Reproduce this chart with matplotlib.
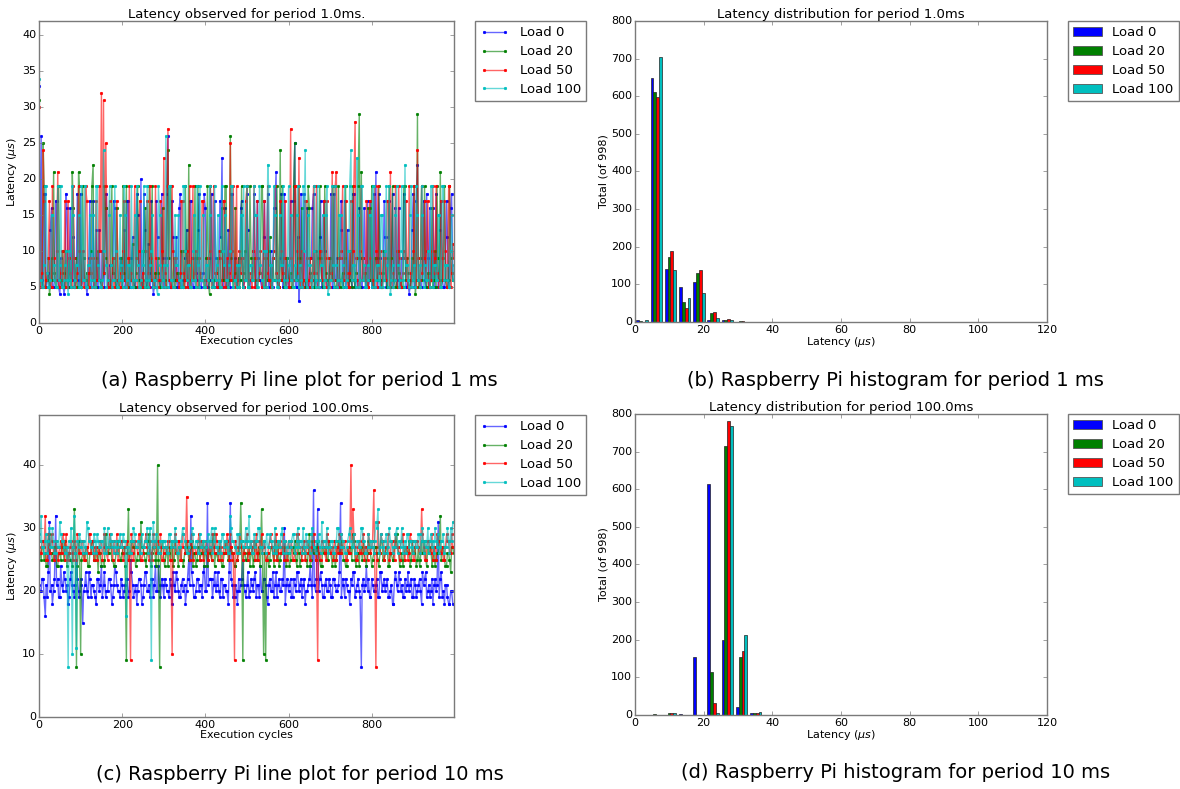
import numpy as np
import matplotlib
matplotlib.use("Agg")
import matplotlib.pyplot as plt
from matplotlib.patches import Patch

plt.style.use("classic")
plt.rcParams["font.family"] = ["DejaVu Sans"]
plt.rcParams["mathtext.fontset"] = "dejavusans"

# ---------------- data ----------------
loads = ["Load 0", "Load 20", "Load 50", "Load 100"]
colors = ["#0000ff", "#008000", "#ff0000", "#00bfbf"]

# sampled execution cycles: set A (0,5,10,...) and set B (2,7,12,...)
cycles_a = list(range(0, 1000, 5))
cycles_b = list(range(2, 1000, 5))

# Period 1.0 ms latency (us), set A
p1_load0 = [33,26,5,18,6,5,16,5,17,6,4,5,4,18,5,16,6,5,9,5,
            18,6,5,4,9,5,17,6,5,13,5,7,16,5,8,5,17,5,6,9,
            5,13,6,17,5,12,5,18,6,20,5,13,5,7,17,4,5,12,6,18,
            5,9,26,5,17,6,12,5,18,5,6,13,5,17,5,9,6,18,5,7,
            16,5,6,18,5,9,5,17,23,6,5,13,5,18,6,5,9,16,5,6,
            18,5,6,10,5,17,6,5,12,5,18,6,5,16,21,5,9,6,18,5,
            5,17,6,25,5,3,18,6,5,16,5,9,18,6,5,12,5,17,6,5,
            9,5,18,6,5,13,5,17,6,5,10,18,5,6,16,5,9,5,17,6,
            5,18,21,5,9,6,17,5,12,5,18,6,5,16,5,9,17,5,4,6,
            18,5,22,6,5,17,5,9,16,6,5,18,5,13,6,5,17,5,16,6]
p1_load20 = [31,6,25,5,6,4,9,21,5,19,6,5,7,10,5,6,21,5,9,21,
             5,19,6,7,5,10,22,5,9,6,5,7,16,6,5,19,9,5,6,6,
             5,7,19,5,6,11,5,9,6,6,5,16,5,19,6,5,7,9,5,6,
             6,5,24,19,5,9,6,7,5,10,5,6,22,5,6,19,9,5,6,6,
             5,19,4,6,5,7,9,5,16,6,19,5,26,6,7,5,9,6,5,10,
             19,5,9,6,6,5,7,19,5,9,6,12,5,6,6,5,24,19,5,9,
             6,7,5,25,6,19,9,5,6,6,16,5,10,5,9,19,6,5,7,5,
             9,6,6,5,19,5,7,9,6,5,6,19,5,9,29,21,6,7,5,16,
             19,5,9,6,6,5,10,6,9,5,19,6,5,7,6,5,19,9,5,6,
             6,4,29,5,19,9,6,7,5,16,6,5,9,21,6,19,5,6,9,6]
p1_load50 = [30,6,24,5,7,17,5,9,6,21,5,10,6,5,17,7,5,9,6,19,
             5,10,6,17,5,7,9,5,6,19,32,31,25,5,17,6,5,10,6,5,
             7,17,5,9,6,5,19,6,10,5,7,6,17,5,9,6,19,5,6,10,
             23,5,27,6,19,5,9,6,7,17,5,10,6,5,19,7,5,9,6,17,
             5,6,10,5,19,7,6,9,5,17,6,5,25,10,6,19,5,7,9,6,
             19,5,6,10,5,17,7,6,9,5,19,6,5,10,7,5,17,6,9,5,
             6,27,5,19,10,23,6,5,17,9,6,5,19,7,5,10,6,17,5,9,
             5,21,6,21,5,9,19,6,7,5,17,10,28,6,5,19,9,6,5,17,
             6,5,10,19,7,5,9,6,17,21,5,6,10,19,5,7,9,6,19,5,
             10,6,24,5,19,9,6,17,5,10,7,19,6,5,9,17,6,19,5,11]
p1_load100 = [34,6,5,19,7,5,15,6,5,19,8,5,6,10,4,6,19,5,8,15,
              5,6,19,5,8,6,15,5,19,6,5,24,8,6,19,5,6,10,5,15,
              6,19,5,8,5,6,15,19,5,6,8,5,19,6,10,5,6,4,15,5,
              8,26,5,19,6,5,8,15,6,5,19,6,8,5,10,6,19,5,6,15,
              5,8,19,6,5,6,15,5,19,8,6,5,10,19,6,5,8,15,5,6,
              19,5,8,6,15,5,19,6,5,10,22,8,5,19,6,5,15,8,6,5,
              19,6,5,8,15,5,6,19,24,5,8,6,10,5,19,6,8,5,15,4,
              6,19,5,8,6,15,5,19,6,10,24,8,6,23,5,19,6,5,8,15,
              5,19,6,8,5,15,6,19,5,4,8,6,19,5,10,6,22,8,5,19,
              6,5,15,8,19,5,6,10,5,19,8,6,15,5,19,6,8,5,10,6]

# Period 1.0 ms latency (us), set B
p1_load0_b = [5,6,18,5,7,13,5,6,17,5,9,6,5,16,5,6,12,5,18,6,
              5,9,6,5,17,6,5,13,5,6,10,5,18,6,5,7,16,5,6,9,
              6,5,17,5,9,6,5,15,6,5,18,6,11,5,6,5,17,6,5,9,
              5,18,6,5,12,6,5,16,5,6,9,5,17,6,5,7,13,5,6,18,
              6,5,9,6,17,5,6,12,5,16,6,5,18,6,9,5,6,17,5,6,
              13,5,6,18,5,9,6,5,17,6,5,10,5,16,6,5,18,5,6,9,
              5,6,17,5,12,6,5,18,6,5,9,16,5,6,5,17,6,10,5,6,
              18,5,6,9,5,17,6,5,13,6,5,18,6,5,9,5,16,6,5,17,
              6,5,9,18,5,6,12,5,17,6,5,16,6,5,9,18,5,6,5,13,
              5,17,6,5,9,6,18,5,6,16,5,9,6,17,5,6,12,5,18,6]
p1_load20_b = [6,5,19,6,9,5,6,7,5,19,6,10,5,6,9,5,16,6,5,19,
               5,9,6,5,7,19,6,5,10,6,5,19,9,6,5,7,6,16,5,9,
               19,6,5,9,6,5,7,19,5,6,10,5,6,9,19,5,6,7,5,16,
               6,5,9,19,6,5,7,6,10,5,19,6,5,9,6,5,19,7,6,5,
               9,6,19,5,6,7,5,10,6,19,5,6,9,5,16,6,5,19,7,6,
               5,19,6,9,5,6,7,19,5,6,10,5,9,6,19,5,6,7,5,9,
               6,5,19,6,9,5,16,6,5,19,7,6,5,10,6,9,5,19,6,5,
               7,19,5,6,9,6,5,19,6,10,5,6,7,19,5,9,6,5,16,6,
               5,9,6,19,5,7,6,5,19,9,6,5,10,6,5,19,6,7,5,9,
               19,6,5,9,6,19,5,7,6,5,10,19,6,5,9,6,5,19,7,6]
p1_load50_b = [5,7,17,6,9,5,19,6,10,5,7,6,17,5,9,6,19,5,7,10,
               6,5,19,7,9,6,5,17,6,10,5,7,19,6,5,9,6,17,5,7,
               10,6,5,19,7,6,9,5,17,6,5,10,7,19,6,5,9,6,17,5,
               7,19,6,5,10,9,6,5,17,7,6,5,19,9,6,10,5,7,17,6,
               5,9,19,6,7,5,10,6,17,5,9,7,6,19,5,6,10,9,5,17,
               6,7,5,19,9,6,10,5,17,7,6,5,9,19,6,5,10,7,17,6,
               5,9,6,19,7,5,10,6,17,5,9,6,7,19,5,10,6,9,17,5,
               7,6,19,5,9,10,6,17,5,7,6,19,9,5,10,6,7,17,5,9,
               6,19,5,7,10,6,9,17,5,6,7,19,5,9,6,10,17,5,7,6,
               19,5,9,6,7,17,10,5,6,19,9,7,5,17,6,10,5,19,7,9]
p1_load100_b = [6,5,8,19,5,6,15,8,5,6,19,5,8,6,10,5,15,6,8,5,
                19,6,5,8,15,5,6,19,8,5,6,10,5,15,8,6,19,5,6,8,
                5,15,6,8,19,5,6,8,5,10,19,6,5,8,15,6,5,19,8,6,
                5,8,19,6,5,15,8,6,5,19,10,8,5,6,15,5,8,19,6,5,
                8,6,15,5,19,8,6,5,10,15,6,8,19,5,6,8,5,15,19,6,
                5,8,6,19,15,5,8,6,10,5,19,8,6,15,5,6,8,19,5,6,
                8,15,5,6,19,8,5,10,6,15,8,5,19,6,5,8,15,6,19,5,
                6,8,19,5,15,6,8,5,10,19,6,8,5,15,6,19,8,5,6,15,
                19,5,8,6,15,5,10,8,19,6,5,15,8,6,19,5,8,6,15,5,
                8,19,6,5,15,8,6,10,19,5,8,6,15,5,19,8,6,5,15,8]

# Period 100.0 ms latency (us), set A
p100_load0 = [21,20,22,16,19,31,21,20,32,22,19,21,23,20,18,22,21,19,25,20,
              22,15,21,20,23,19,21,19,22,20,24,21,19,20,22,18,21,23,20,19,
              21,20,22,19,25,21,20,18,22,21,19,23,20,21,22,19,24,20,21,22,
              19,21,20,22,18,21,23,20,19,22,21,20,25,32,21,19,22,20,21,23,
              20,34,22,22,21,20,23,19,22,21,20,18,34,21,19,20,22,21,25,20,
              21,19,22,20,23,21,19,20,22,21,18,22,20,19,23,21,20,22,30,21,
              20,22,19,21,23,20,22,21,18,20,22,21,36,20,33,22,21,19,22,20,
              21,19,22,20,21,34,22,19,21,20,22,23,19,21,20,8,22,21,20,19,
              22,20,21,19,23,20,22,21,19,20,18,22,21,23,20,19,22,21,20,22,
              19,21,20,22,18,21,23,20,19,22,21,20,31,22,19,18,21,18,20,18]
p100_load20 = [28,25,27,26,24,29,26,25,27,24,26,28,25,27,26,25,24,33,8,27,
               10,26,25,27,24,26,28,25,26,27,24,25,29,26,27,25,24,26,28,25,
               26,27,9,33,26,28,27,25,26,31,27,25,26,29,24,27,25,40,8,27,
               25,26,24,27,28,25,26,24,27,25,26,28,25,27,24,26,25,27,26,28,
               26,24,27,25,29,26,25,27,24,26,28,25,27,26,24,25,27,34,9,26,
               25,27,26,24,28,25,27,33,10,9,26,25,27,24,26,28,25,26,27,24,
               26,25,27,28,24,26,25,27,26,24,29,25,26,27,28,25,24,26,27,25,
               27,24,26,25,28,26,27,25,24,26,27,29,25,26,24,27,28,25,26,27,
               24,26,27,25,26,28,25,27,24,26,25,27,29,26,25,24,27,26,28,25,
               26,27,25,24,28,26,25,27,26,24,27,25,26,32,27,25,24,26,23,27]
p100_load50 = [27,26,28,32,25,27,29,26,28,25,27,26,28,29,25,27,26,28,25,27,
               26,28,25,27,29,26,28,27,25,26,28,27,26,25,29,27,28,26,25,27,
               28,26,27,25,9,26,28,27,29,25,26,28,27,25,26,29,28,26,27,25,
               26,27,28,25,10,27,26,28,25,29,27,35,26,28,25,27,26,29,28,25,
               27,26,28,25,27,29,26,28,25,27,26,28,29,25,9,27,26,28,25,27,
               29,26,28,27,25,26,28,29,27,25,26,28,27,25,29,26,28,27,25,26,
               28,27,25,26,29,28,26,27,25,28,26,27,29,25,9,26,28,27,25,28,
               26,27,28,25,26,29,27,28,25,26,40,33,27,25,28,26,29,27,25,28,
               27,36,8,31,26,28,25,27,29,26,28,25,27,26,28,29,25,27,26,28,
               25,27,28,26,33,27,25,28,26,29,27,25,28,26,27,25,29,28,26,27]
p100_load100 = [29,32,27,28,26,30,27,28,26,27,31,28,27,26,8,28,10,32,11,27,
                28,26,27,31,28,27,26,28,29,27,28,26,27,30,28,27,26,28,27,29,
                27,28,16,27,26,28,29,27,28,26,27,28,30,27,9,31,28,27,26,28,
                28,27,26,29,28,27,28,26,27,30,28,26,27,28,29,27,28,26,27,28,
                26,28,27,30,28,27,26,28,29,27,28,26,32,28,27,26,29,28,27,28,
                27,32,28,26,27,28,30,27,28,26,27,29,28,27,26,28,27,30,28,26,
                28,27,29,26,28,27,28,30,26,27,28,29,27,26,28,27,31,28,27,26,
                27,28,26,28,30,27,28,26,27,29,28,27,26,28,27,30,28,26,27,28,
                28,26,31,33,27,28,26,29,27,28,26,27,30,28,27,26,28,29,27,28,
                26,28,27,29,28,26,27,30,28,27,26,28,29,27,28,26,27,28,30,31]

# Period 100.0 ms latency (us), set B
p100_load0_b = [20,22,19,21,23,20,18,22,21,19,24,20,22,21,19,23,20,21,22,19,
                21,20,23,19,22,21,20,18,22,21,19,23,20,22,21,19,24,21,20,22,
                19,21,22,20,23,19,21,20,22,18,21,23,20,19,22,21,20,24,19,21,
                22,20,19,21,23,20,22,19,21,20,18,22,21,23,19,20,22,21,19,24,
                20,21,22,19,23,21,20,22,19,21,20,23,22,19,21,18,20,22,21,19,
                23,20,21,22,19,21,24,20,22,19,21,20,23,21,19,22,20,21,18,22,
                21,19,22,20,23,21,19,22,20,21,24,19,21,22,20,23,19,21,20,22,
                19,22,21,20,23,19,21,22,20,18,21,23,20,22,19,21,20,24,22,19,
                21,20,22,19,23,21,20,22,19,21,18,23,20,22,21,19,20,23,21,19,
                22,19,21,20,23,22,19,21,20,18,22,21,19,23,20,21,19,18,20,18]
p100_load20_b = [26,27,25,24,28,26,25,27,24,26,25,27,28,24,26,25,27,26,24,28,
                 25,26,27,24,26,28,25,27,23,26,25,24,27,26,28,25,24,26,27,25,
                 27,24,26,25,28,27,24,26,25,27,26,24,28,25,26,27,24,25,26,28,
                 24,27,26,25,24,28,26,27,25,24,26,27,25,28,26,24,27,25,26,24,
                 27,25,26,28,24,26,27,25,24,26,28,25,27,26,24,25,26,28,27,25,
                 26,24,27,25,28,26,24,27,26,25,24,27,26,28,25,24,26,27,25,26,
                 24,27,26,25,28,24,26,27,25,26,24,28,27,25,26,24,27,26,25,28,
                 26,25,24,27,26,28,25,24,27,26,25,28,24,26,27,25,26,24,28,26,
                 25,27,26,24,28,25,26,27,24,26,25,28,27,24,26,25,27,26,24,28,
                 26,24,27,25,26,28,24,26,27,25,24,26,28,25,27,24,26,25,27,26]
p100_load50_b = [26,28,27,25,29,26,28,25,27,26,28,29,25,27,26,28,25,27,29,26,
                 28,25,27,26,29,28,25,26,27,28,25,29,26,27,28,25,26,29,27,28,
                 25,27,28,26,29,25,27,26,28,25,27,29,26,28,25,27,26,28,29,25,
                 27,26,28,25,27,29,26,28,25,27,26,28,25,29,27,26,28,25,27,26,
                 28,25,27,29,26,28,25,27,26,28,29,25,27,26,28,25,29,27,26,28,
                 25,27,26,28,29,25,27,26,28,25,27,29,26,28,25,27,26,29,28,25,
                 27,28,25,26,29,27,25,28,26,27,25,29,28,26,27,25,28,26,29,27,
                 26,25,28,27,29,26,28,25,27,26,28,29,25,27,26,28,25,27,29,26,
                 28,26,25,27,29,28,26,27,25,28,26,29,27,25,28,26,27,25,29,28,
                 25,28,27,26,29,25,27,28,26,25,27,29,28,26,25,27,28,26,29,27]
p100_load100_b = [28,27,26,29,28,27,30,26,28,27,29,28,26,27,28,30,27,26,28,29,
                  27,28,26,30,28,27,29,26,28,27,28,30,26,27,29,28,27,26,28,27,
                  29,28,27,26,28,30,27,28,26,29,27,28,26,30,28,27,29,26,28,27,
                  28,26,29,27,28,30,26,27,28,29,27,26,28,30,27,28,26,29,27,28,
                  27,29,28,26,30,27,28,26,29,28,27,26,30,28,27,29,26,28,27,30,
                  28,27,26,29,28,30,27,26,28,29,27,28,26,30,27,28,29,26,28,27,
                  26,28,29,27,30,28,26,27,29,28,26,30,27,28,29,26,27,28,30,27,
                  28,26,27,30,28,29,27,26,28,30,27,29,26,28,27,30,28,26,29,27,
                  27,28,30,26,29,27,28,26,30,28,27,29,26,28,30,27,26,29,28,27,
                  28,27,29,26,30,28,27,26,29,28,30,27,26,28,29,27,30,26,28,31]

# Histogram counts (first 11 bins of 29 equal bins over 0..120 us; the rest are 0)
hist_edges_range = (0, 120)
hist_nbins = 29
h1_load0 = [5, 648, 140, 92, 105, 6, 6, 1, 1, 0, 0]
h1_load20 = [3, 612, 172, 53, 129, 23, 5, 3, 1, 0, 0]
h1_load50 = [1, 598, 190, 38, 137, 26, 7, 3, 0, 0, 0]
h1_load100 = [4, 703, 138, 63, 78, 10, 4, 0, 1, 0, 0]
h100_load0 = [1, 1, 1, 2, 155, 613, 200, 22, 6, 0, 0]
h100_load20 = [1, 2, 6, 0, 1, 115, 715, 155, 5, 1, 0]
h100_load50 = [0, 1, 4, 0, 1, 33, 782, 170, 6, 1, 1]
h100_load100 = [0, 1, 4, 1, 1, 4, 768, 213, 8, 0, 0]

# ---------------- figure ----------------
fig = plt.figure(figsize=(11.8, 7.89), dpi=100, facecolor="white")

pos = {
    "a": [0.0331, 0.5906, 0.3517, 0.3828],
    "b": [0.5381, 0.5919, 0.3492, 0.3815],
    "c": [0.0331, 0.0913, 0.3517, 0.3828],
    "d": [0.5381, 0.0938, 0.3492, 0.3815],
}

edge_gray = "#7a7a7a"
fs_tick = 8
fs_lab = 8
fs_title = 9.5
fs_leg = 9.5


def style_axes(ax):
    for s in ax.spines.values():
        s.set_color(edge_gray)
        s.set_linewidth(1.0)
    ax.tick_params(labelsize=fs_tick, color=edge_gray, length=3, pad=2)
    ax.set_facecolor("white")


def merge(ya, yb):
    x = np.array(cycles_a + cycles_b)
    y = np.array(ya + yb)
    order = np.argsort(x, kind="stable")
    return x[order], y[order]


def line_panel(ax, series_a, series_b, title, ymax, yticks):
    for ya, yb, c, lab in zip(series_a, series_b, colors, loads):
        x, y = merge(ya, yb)
        rgba = matplotlib.colors.to_rgba(c)
        ax.plot(x, y, "-", marker=".", color=(rgba[0], rgba[1], rgba[2], 0.6),
                markerfacecolor=c, markeredgecolor=c, markersize=3.5, linewidth=1.0, label=lab)
    ax.set_xlim(0, 998)
    ax.set_ylim(0, ymax)
    ax.set_xticks([0, 200, 400, 600, 800])
    ax.set_yticks(yticks)
    ax.set_xlabel("Execution cycles", fontsize=fs_lab, labelpad=0)
    ax.set_ylabel(r"Latency ($\mu s$)", fontsize=fs_lab, labelpad=2)
    ax.set_title(title, fontsize=fs_title, pad=2)
    style_axes(ax)
    leg = ax.legend(loc="upper left", bbox_to_anchor=(1.05, 1.0), borderaxespad=0,
                    fontsize=fs_leg, numpoints=2, handlelength=2.2, fancybox=False,
                    labelspacing=0.45, borderpad=0.4, handletextpad=0.8)
    leg.get_frame().set_edgecolor(edge_gray)
    leg.get_frame().set_linewidth(1.0)


def hist_panel(ax, counts, title):
    edges = np.linspace(hist_edges_range[0], hist_edges_range[1], hist_nbins + 1)
    w = edges[1] - edges[0]
    bw = 0.8 * w / 4
    for j, (cnt, c, lab) in enumerate(zip(counts, colors, loads)):
        cnt = np.array(cnt, dtype=float)
        lefts = edges[:len(cnt)] + 0.1 * w + j * bw
        m = cnt > 0
        ax.bar(lefts[m], cnt[m], width=bw, align="edge", color=c,
               edgecolor="#222222", linewidth=0.5)
    ax.set_xlim(0, 120)
    ax.set_ylim(0, 800)
    ax.set_xticks([0, 20, 40, 60, 80, 100, 120])
    ax.set_yticks(range(0, 801, 100))
    ax.set_xlabel(r"Latency ($\mu s$)", fontsize=fs_lab, labelpad=0)
    ax.set_ylabel("Total (of 998)", fontsize=fs_lab, labelpad=2)
    ax.set_title(title, fontsize=fs_title, pad=2)
    style_axes(ax)
    handles = [Patch(facecolor=c, edgecolor="#555555", linewidth=0.6) for c in colors]
    leg = ax.legend(handles, loads, loc="upper left", bbox_to_anchor=(1.05, 1.0),
                    borderaxespad=0, fontsize=fs_leg, handlelength=2.2, fancybox=False,
                    labelspacing=0.45, borderpad=0.4, handletextpad=0.8)
    leg.get_frame().set_edgecolor(edge_gray)
    leg.get_frame().set_linewidth(1.0)


axa = fig.add_axes(pos["a"])
line_panel(axa, [p1_load0, p1_load20, p1_load50, p1_load100],
           [p1_load0_b, p1_load20_b, p1_load50_b, p1_load100_b],
           "Latency observed for period 1.0ms.", 42, range(0, 41, 5))
axb = fig.add_axes(pos["b"])
hist_panel(axb, [h1_load0, h1_load20, h1_load50, h1_load100],
           "Latency distribution for period 1.0ms")
axc = fig.add_axes(pos["c"])
line_panel(axc, [p100_load0, p100_load20, p100_load50, p100_load100],
           [p100_load0_b, p100_load20_b, p100_load50_b, p100_load100_b],
           "Latency observed for period 100.0ms.", 48, range(0, 41, 10))
axd = fig.add_axes(pos["d"])
hist_panel(axd, [h100_load0, h100_load20, h100_load50, h100_load100],
           "Latency distribution for period 100.0ms")

cap_fs = 14
fig.text(0.254, 1 - 381 / 789, "(a) Raspberry Pi line plot for period 1 ms",
         ha="center", va="center", fontsize=cap_fs)
fig.text(0.759, 1 - 381 / 789, "(b) Raspberry Pi histogram for period 1 ms",
         ha="center", va="center", fontsize=cap_fs)
fig.text(0.254, 1 - 774 / 789, "(c) Raspberry Pi line plot for period 10 ms",
         ha="center", va="center", fontsize=cap_fs)
fig.text(0.759, 1 - 773 / 789, "(d) Raspberry Pi histogram for period 10 ms",
         ha="center", va="center", fontsize=cap_fs)

fig.savefig("out.png", dpi=100, facecolor="white")
